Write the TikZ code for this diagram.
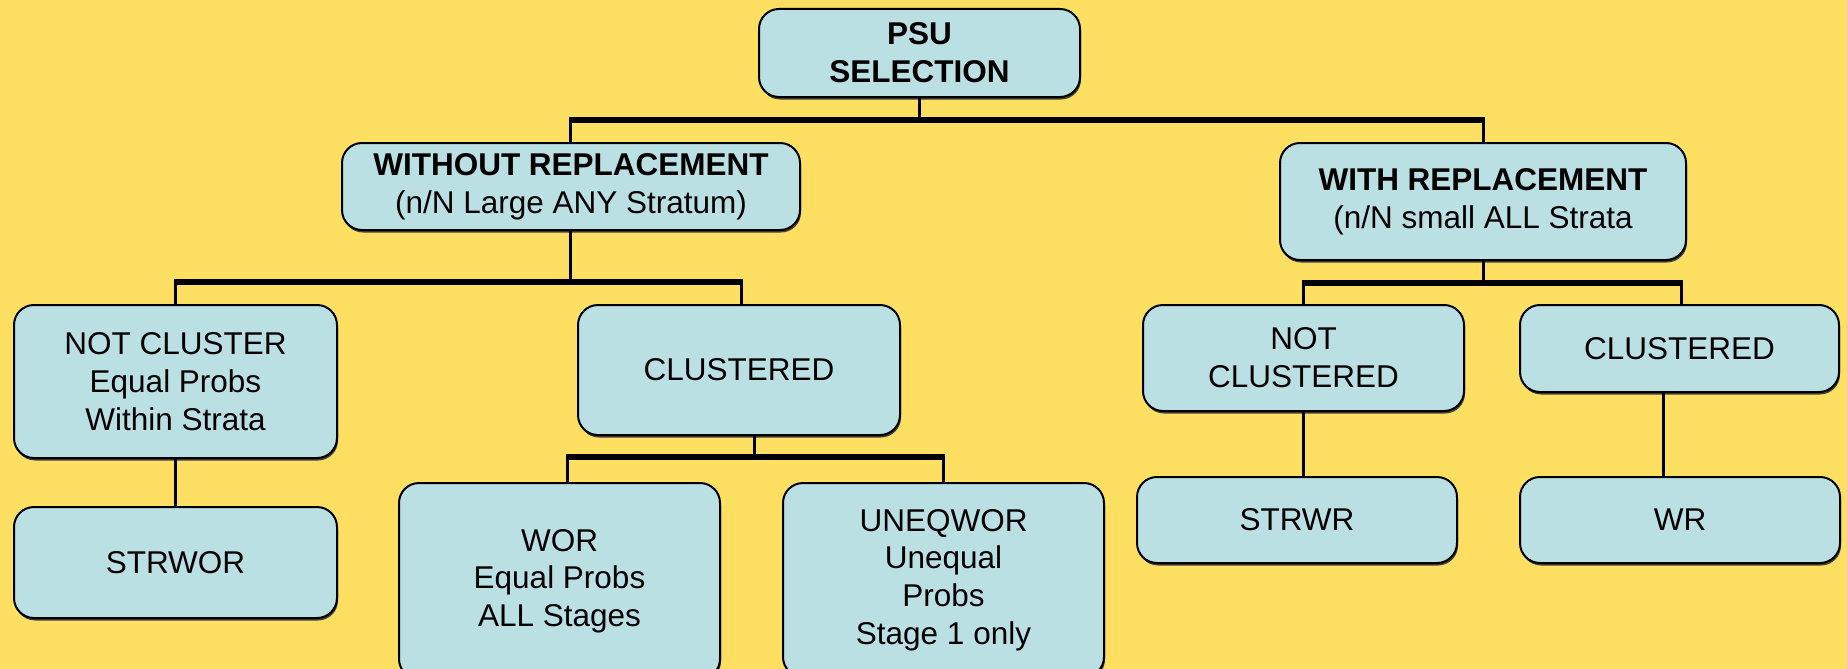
\documentclass[tikz,border=0pt]{standalone}
\usepackage{fontspec}
\setmainfont{Liberation Sans}
\usetikzlibrary{shadows}
\definecolor{bgyellow}{RGB}{253,224,98}
\definecolor{boxblue}{RGB}{187,224,227}
\tikzset{
  box/.style={draw=black, line width=2pt, fill=boxblue, rounded corners=20pt,
    align=center, inner sep=0pt, font=\fontsize{31.5}{37.7}\selectfont,
    drop shadow={shadow xshift=1pt, shadow yshift=-2.5pt, fill=black!75, opacity=1}},
  conn/.style={line width=3pt},
  bar/.style={line width=6pt, shorten <=-1.5pt, shorten >=-1.5pt},
}
\begin{document}
\begin{tikzpicture}[x=1pt,y=-1pt]
\fill[bgyellow] (0,0) rectangle (1847,669);
\useasboundingbox (0,0) rectangle (1847,669);
% nodes
\node[box, minimum width=321pt, minimum height=88pt] (psu) at (919.5,53) {\textbf{PSU}\\\textbf{SELECTION}};
\node[box, minimum width=458pt, minimum height=87pt] (wo) at (571,186.5) {\textbf{WITHOUT REPLACEMENT}\\(n/N Large ANY Stratum)};
\node[box, minimum width=406pt, minimum height=117pt] (wi) at (1483,201.5) {\textbf{WITH REPLACEMENT}\\(n/N small ALL Strata};
\node[box, minimum width=323pt, minimum height=153pt] (nc) at (175.5,381.5) {NOT CLUSTER\\Equal Probs\\Within Strata};
\node[box, minimum width=322pt, minimum height=130pt] (cl) at (739,370) {CLUSTERED};
\node[box, minimum width=321pt, minimum height=106pt] (ncd) at (1303.5,358) {NOT\\CLUSTERED};
\node[box, minimum width=319pt, minimum height=87pt] (clr) at (1679.5,348.5) {CLUSTERED};
\node[box, minimum width=323pt, minimum height=111pt] (strwor) at (175.5,562.5) {STRWOR};
\node[box, minimum width=321pt, minimum height=196pt] (wor) at (559.5,581) {WOR\\Equal Probs\\ALL Stages};
\node[box, minimum width=321pt, minimum height=194pt] (uneq) at (943.5,580) {UNEQWOR\\Unequal\\Probs\\Stage 1 only};
\node[box, minimum width=320pt, minimum height=86pt] (strwr) at (1297,520) {STRWR};
\node[box, minimum width=320pt, minimum height=86pt] (wr) at (1680,520) {WR};
% bar levels
\coordinate (b1) at (0,120);
\coordinate (b2) at (0,282);
\coordinate (b3) at (0,283);
\coordinate (b4) at (0,457);
% level 1
\draw[conn] (psu.south) -- (psu.south |- b1);
\draw[bar] ([xshift=-1pt]wo.north |- b1) -- (wi.north |- b1);
\draw[conn] ([xshift=-1pt]wo.north |- b1) -- ([xshift=-1pt]wo.north);
\draw[conn] (wi.north |- b1) -- (wi.north);
% without replacement
\draw[conn] ([xshift=-1pt]wo.south) -- ([xshift=-1pt]wo.south |- b2);
\draw[bar] (nc.north |- b2) -- ([xshift=2pt]cl.north |- b2);
\draw[conn] (nc.north |- b2) -- (nc.north);
\draw[conn] ([xshift=2pt]cl.north |- b2) -- ([xshift=2pt]cl.north);
% with replacement
\draw[conn] (wi.south) -- (wi.south |- b3);
\draw[bar] (ncd.north |- b3) -- ([xshift=1.5pt]clr.north |- b3);
\draw[conn] (ncd.north |- b3) -- (ncd.north);
\draw[conn] ([xshift=1.5pt]clr.north |- b3) -- ([xshift=1.5pt]clr.north);
% clustered (left)
\draw[conn] ([xshift=15pt]cl.south) -- ([xshift=15pt]cl.south |- b4);
\draw[bar] ([xshift=7.5pt]wor.north |- b4) -- (uneq.north |- b4);
\draw[conn] ([xshift=7.5pt]wor.north |- b4) -- ([xshift=7.5pt]wor.north);
\draw[conn] (uneq.north |- b4) -- (uneq.north);
% single links
\draw[conn] (nc.south) -- (strwor.north);
\draw[conn] (ncd.south) -- (ncd.south |- strwr.north);
\draw[conn] ([xshift=-16pt]clr.south) -- ([xshift=-16pt]clr.south |- wr.north);
\end{tikzpicture}
\end{document}
